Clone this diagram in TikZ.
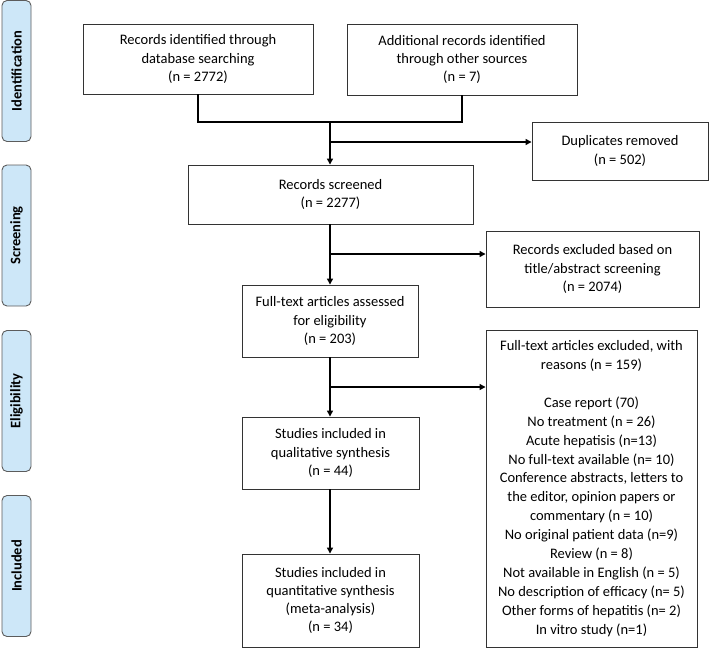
\documentclass[tikz,border=0pt]{standalone}
\usepackage{fontspec}
\setmainfont{Carlito}
\usetikzlibrary{arrows.meta,positioning}
\definecolor{sidefill}{HTML}{CDE7F8}
\definecolor{boxline}{HTML}{333333}
\tikzset{
  pbox/.style={draw=boxline, line width=0.9pt, inner sep=0pt, align=center,
    font=\fontsize{14.5}{18.2}\selectfont},
  sidebox/.style={draw=boxline!80, fill=sidefill, line width=0.9pt, rounded corners=5pt,
    inner sep=0pt, minimum width=141pt, minimum height=29pt, rotate=90,
    font=\fontsize{14.5}{16}\selectfont\bfseries},
  conn/.style={line width=1.3pt, draw=black},
  arr/.style={conn, -{Triangle[length=6pt,width=6pt]}}
}
\begin{document}
\begin{tikzpicture}[x=1pt,y=-1pt]
\useasboundingbox (0,0) rectangle (709,649);
% side labels
\node[sidebox] (sid) at (16.5,71) {Identification};
\node[sidebox] (sscr) at (16.5,235.5) {Screening};
\node[sidebox] (self) at (16.5,401) {Eligibility};
\node[sidebox] (sinc) at (16.5,566) {Included};
% boxes
\node[pbox, minimum width=230pt, minimum height=70pt] (db) at (198,59) {Records identified through\\database searching\\(n = 2772)};
\node[pbox, minimum width=230pt, minimum height=71pt] (other) at (462,59.5) {Additional records identified\\through other sources\\(n = 7)};
\node[pbox, minimum width=176pt, minimum height=58pt] (dup) at (620,151) {Duplicates removed\\(n = 502)};
\node[pbox, minimum width=285pt, minimum height=59pt] (scr) at (330.5,194.5) {Records screened\\(n = 2277)};
\node[pbox, minimum width=213pt, minimum height=76pt] (exc) at (592.5,269) {Records excluded based on\\title/abstract screening\\(n = 2074)};
\node[pbox, minimum width=176pt, minimum height=72pt] (ft) at (330,321) {Full-text articles assessed\\for eligibility\\(n = 203)};
\node[pbox, minimum width=211pt, minimum height=317pt, font=\fontsize{14.5}{18.9}\selectfont] (ftx) at (591.5,488.5) {Full-text articles excluded, with\\reasons (n = 159)\\[18.9pt]Case report (70)\\No treatment (n = 26)\\Acute hepatisis (n=13)\\No full-text available (n= 10)\\Conference abstracts, letters to\\the editor, opinion papers or\\commentary (n = 10)\\No original patient data (n=9)\\Review (n = 8)\\Not available in English (n = 5)\\No description of efficacy (n= 5)\\Other forms of hepatitis (n= 2)\\In vitro study (n=1)};
\node[pbox, minimum width=177pt, minimum height=72pt] (qual) at (330.5,453) {Studies included in\\qualitative synthesis\\(n = 44)};
\node[pbox, minimum width=177pt, minimum height=93pt] (quant) at (330.5,600.5) {Studies included in\\quantitative synthesis\\(meta-analysis)\\(n = 34)};
% junctions
\coordinate (j1) at (330,122);
\coordinate (b1) at (330,142);
\coordinate (b2) at (330,254);
\coordinate (b3) at (330,387);
% connectors
\draw[conn] (db.south) -- (db.south |- j1) -- (other.south |- j1) -- (other.south);
\draw[arr] (j1) -- (j1 |- scr.north);
\draw[arr] (b1) -- (dup.west |- b1);
\draw[arr] (scr.south -| b2) -- (b2 |- ft.north);
\draw[arr] (b2) -- (exc.west |- b2);
\draw[arr] (ft.south -| b3) -- (b3 |- qual.north);
\draw[arr] (b3) -- (ftx.west |- b3);
\draw[arr] (qual.south -| b3) -- (b3 |- quant.north);
\end{tikzpicture}
\end{document}
